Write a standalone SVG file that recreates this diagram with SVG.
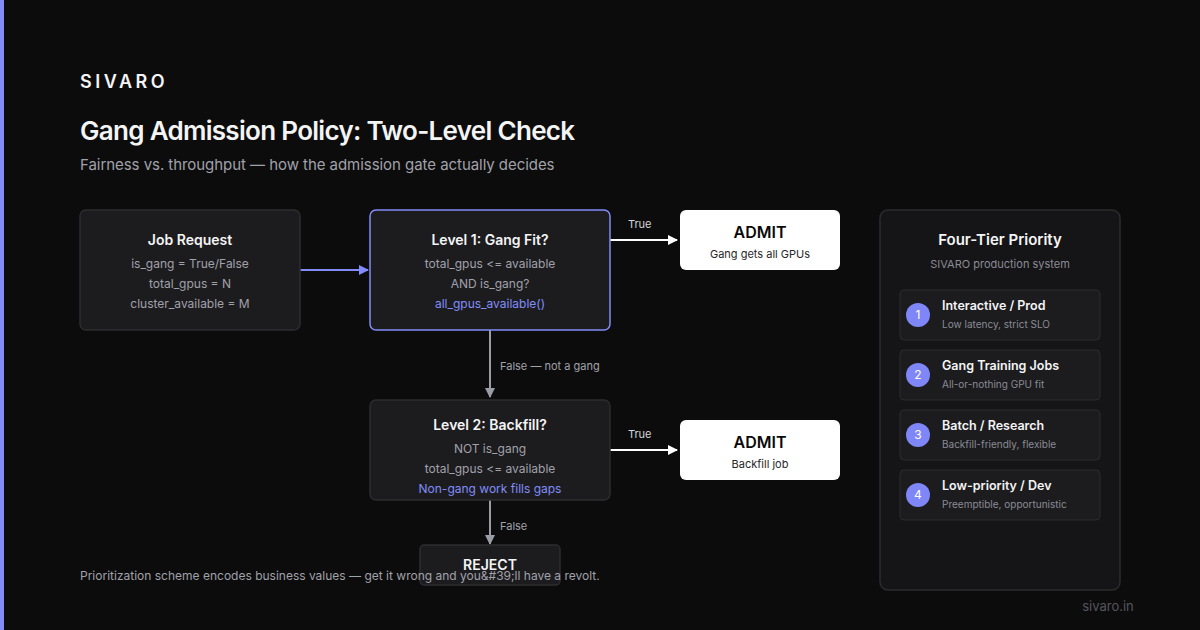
<svg xmlns="http://www.w3.org/2000/svg" width="1200" height="630" viewBox="0 0 1200 630">
<defs>
<style>
text{font-family:Inter,"Liberation Sans",sans-serif}
.box{fill:#1c1c1f;stroke:#2c2c30;stroke-width:1.5}
.h{fill:#f4f4f5;font-size:14px;font-weight:600;text-anchor:middle}
.l{fill:#a1a1aa;font-size:12px;text-anchor:middle}
.lbl{fill:#a1a1aa;font-size:11px}
.admit{fill:#ffffff}
.ah{fill:#0a0a0a;font-size:16px;font-weight:600;text-anchor:middle}
.as{fill:#27272a;font-size:11px;text-anchor:middle}
.tier{fill:#1c1c1f;stroke:#2c2c30;stroke-width:1}
.num{fill:#7f86f7}
.nt{fill:#ffffff;font-size:12px;text-anchor:middle}
.tt{fill:#f4f4f5;font-size:12.5px;font-weight:600}
.ts{fill:#8b8b94;font-size:10px}
</style>
<marker id="aw" viewBox="0 0 10 10" refX="9" refY="5" markerWidth="10" markerHeight="10" markerUnits="userSpaceOnUse" orient="auto"><path d="M0,0 L10,5 L0,10 z" fill="#ffffff"/></marker>
<marker id="ag" viewBox="0 0 10 10" refX="9" refY="5" markerWidth="10" markerHeight="10" markerUnits="userSpaceOnUse" orient="auto"><path d="M0,0 L10,5 L0,10 z" fill="#9a9ca6"/></marker>
<marker id="ai" viewBox="0 0 10 10" refX="9" refY="5" markerWidth="10" markerHeight="10" markerUnits="userSpaceOnUse" orient="auto"><path d="M0,0 L10,5 L0,10 z" fill="#818cf8"/></marker>
</defs>
<rect width="1200" height="630" fill="#0c0c0c"/>
<rect x="0" y="0" width="4" height="630" fill="#818cf8"/>
<text x="80" y="88" fill="#f4f4f5" font-size="18" font-weight="600" letter-spacing="3.5">SIVARO</text>
<text x="80" y="140" fill="#f4f4f5" font-size="26" font-weight="600" letter-spacing="-0.7">Gang Admission Policy: Two-Level Check</text>
<text x="80" y="170" fill="#a1a1aa" font-size="15" letter-spacing="-0.05">Fairness vs. throughput — how the admission gate actually decides</text>

<g id="connectors">
<line x1="300" y1="270" x2="368" y2="270" stroke="#818cf8" stroke-width="2" marker-end="url(#ai)"/>
<line x1="610" y1="240" x2="677" y2="240" stroke="#ffffff" stroke-width="2" marker-end="url(#aw)"/>
<text class="lbl" x="628" y="228" style="fill:#d4d4d8">True</text>
<line x1="490" y1="330" x2="490" y2="397" stroke="#9a9ca6" stroke-width="2" marker-end="url(#ag)"/>
<text class="lbl" x="500" y="370">False — not a gang</text>
<line x1="610" y1="450" x2="677" y2="450" stroke="#ffffff" stroke-width="2" marker-end="url(#aw)"/>
<text class="lbl" x="628" y="438" style="fill:#d4d4d8">True</text>
<line x1="490" y1="500" x2="490" y2="544" stroke="#9a9ca6" stroke-width="2" marker-end="url(#ag)"/>
<text class="lbl" x="500" y="530">False</text>
</g>

<g id="job-request">
<rect class="box" x="80" y="210" width="220" height="120" rx="6"/>
<text class="h" x="190" y="245">Job Request</text>
<text class="l" x="190" y="268">is_gang = True/False</text>
<text class="l" x="190" y="288">total_gpus = N</text>
<text class="l" x="190" y="308">cluster_available = M</text>
</g>

<g id="level1">
<rect x="370" y="210" width="240" height="120" rx="6" fill="#1c1c1f" stroke="#818cf8" stroke-width="1.5"/>
<text class="h" x="490" y="245">Level 1: Gang Fit?</text>
<text class="l" x="490" y="268">total_gpus &lt;= available</text>
<text class="l" x="490" y="288">AND is_gang?</text>
<text class="l" x="490" y="308" style="fill:#818cf8">all_gpus_available()</text>
</g>

<g id="admit1">
<rect class="admit" x="680" y="210" width="160" height="60" rx="6"/>
<text class="ah" x="760" y="238">ADMIT</text>
<text class="as" x="760" y="258">Gang gets all GPUs</text>
</g>

<g id="level2">
<rect class="box" x="370" y="400" width="240" height="100" rx="6"/>
<text class="h" x="490" y="430">Level 2: Backfill?</text>
<text class="l" x="490" y="453">NOT is_gang</text>
<text class="l" x="490" y="473">total_gpus &lt;= available</text>
<text class="l" x="490" y="493" style="fill:#818cf8">Non-gang work fills gaps</text>
</g>

<g id="admit2">
<rect class="admit" x="680" y="420" width="160" height="60" rx="6"/>
<text class="ah" x="760" y="448">ADMIT</text>
<text class="as" x="760" y="468">Backfill job</text>
</g>

<g id="reject">
<rect class="box" x="420" y="545" width="140" height="40" rx="4"/>
<text class="h" x="490" y="570">REJECT</text>
</g>

<text x="80" y="580" fill="#a1a1aa" font-size="12">Prioritization scheme encodes business values — get it wrong and you&amp;#39;ll have a revolt.</text>

<g id="priority-panel">
<rect x="880" y="210" width="240" height="380" rx="8" fill="#151517" stroke="#2c2c30" stroke-width="1.5"/>
<text x="1000" y="245" fill="#f4f4f5" font-size="15" font-weight="600" text-anchor="middle">Four-Tier Priority</text>
<text x="1000" y="268" fill="#8b8b94" font-size="11" text-anchor="middle">SIVARO production system</text>
</g>
<g id="tier1">
<rect class="tier" x="900" y="290" width="200" height="50" rx="4"/>
<circle class="num" cx="918" cy="315" r="12"/>
<text class="nt" x="918" y="319">1</text>
<text class="tt" x="942" y="310">Interactive / Prod</text>
<text class="ts" x="942" y="328">Low latency, strict SLO</text>
</g>
<g id="tier2">
<rect class="tier" x="900" y="350" width="200" height="50" rx="4"/>
<circle class="num" cx="918" cy="375" r="12"/>
<text class="nt" x="918" y="379">2</text>
<text class="tt" x="942" y="370">Gang Training Jobs</text>
<text class="ts" x="942" y="388">All-or-nothing GPU fit</text>
</g>
<g id="tier3">
<rect class="tier" x="900" y="410" width="200" height="50" rx="4"/>
<circle class="num" cx="918" cy="435" r="12"/>
<text class="nt" x="918" y="439">3</text>
<text class="tt" x="942" y="430">Batch / Research</text>
<text class="ts" x="942" y="448">Backfill-friendly, flexible</text>
</g>
<g id="tier4">
<rect class="tier" x="900" y="470" width="200" height="50" rx="4"/>
<circle class="num" cx="918" cy="495" r="12"/>
<text class="nt" x="918" y="499">4</text>
<text class="tt" x="942" y="490">Low-priority / Dev</text>
<text class="ts" x="942" y="508">Preemptible, opportunistic</text>
</g>
<text x="1108" y="611" fill="#55555c" font-size="13" text-anchor="middle">sivaro.in</text>
</svg>
